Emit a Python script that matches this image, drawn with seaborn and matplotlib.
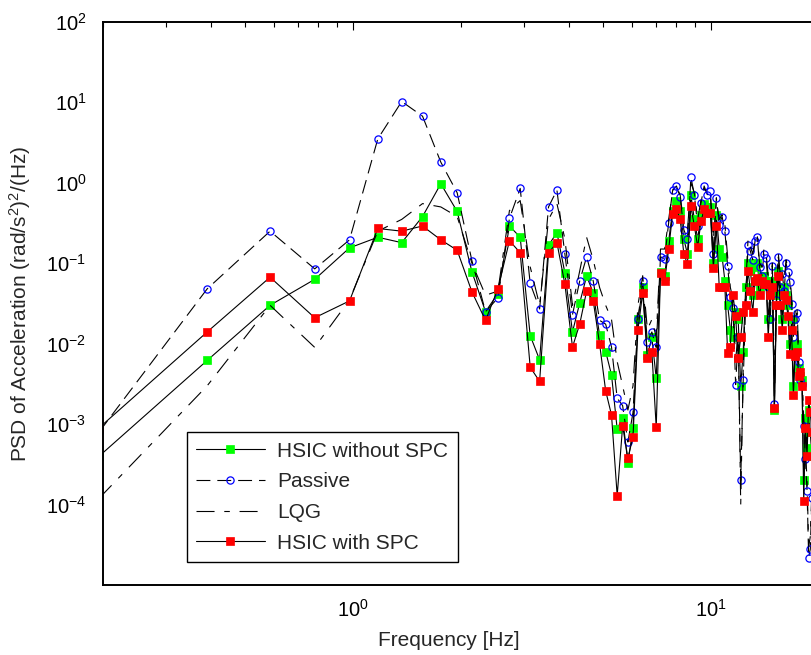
import matplotlib
matplotlib.use("Agg")
import matplotlib.pyplot as plt
import seaborn as sns
import numpy as np
import pandas as pd
from matplotlib.ticker import LogLocator, NullFormatter

# ---------------- data ----------------
freq = [0.195, 0.391, 0.586, 0.781, 0.977, 1.172, 1.367, 1.563, 1.758, 1.953,
        2.148, 2.344, 2.539, 2.734, 2.930, 3.125, 3.320, 3.516, 3.711, 3.906,
        4.102, 4.297, 4.492, 4.688, 4.883, 5.078, 5.273, 5.469, 5.664, 5.859,
        6.055, 6.250, 6.445, 6.641, 6.836, 7.031, 7.227, 7.422, 7.617, 7.813,
        8.008, 8.203, 8.398, 8.594, 8.789, 8.984, 9.180, 9.375, 9.570, 9.766,
        9.961, 10.156, 10.352, 10.547, 10.742, 10.938, 11.133, 11.328, 11.523, 11.719,
        11.914, 12.109, 12.305, 12.500, 12.695, 12.891, 13.086, 13.281, 13.477, 13.672,
        13.867, 14.063, 14.258, 14.453, 14.648, 14.844, 15.039, 15.234, 15.430, 15.625,
        15.820, 16.016, 16.211, 16.406, 16.602, 16.797, 16.992, 17.188, 17.383, 17.578,
        17.773, 17.969, 18.164, 18.359, 18.555, 18.750, 18.945, 19.141]

hsic_without_spc = [0.0004, 0.0062, 0.030, 0.063, 0.155, 0.21, 0.18, 0.38, 0.97, 0.44,
    0.078, 0.025, 0.042, 0.29, 0.21, 0.0126, 0.0063, 0.167, 0.24, 0.076,
    0.014, 0.032, 0.069, 0.043, 0.0128, 0.0080, 0.0041, 0.00087, 0.0012, 0.00033,
    0.0009, 0.02, 0.05, 0.0072, 0.012, 0.0037, 0.078, 0.07, 0.19, 0.45,
    0.6, 0.45, 0.2, 0.13, 0.7, 0.35, 0.2, 0.4, 0.55, 0.5,
    0.5, 0.1, 0.4, 0.15, 0.12, 0.06, 0.03, 0.015, 0.012, 0.025,
    0.02, 0.003, 0.008, 0.05, 0.1, 0.08, 0.04, 0.09, 0.1, 0.05,
    0.07, 0.07, 0.06, 0.02, 0.05, 0.06, 0.0015, 0.04, 0.08, 0.04,
    0.02, 0.05, 0.04, 0.03, 0.01, 0.02, 0.003, 0.009, 0.01, 0.005,
    0.004, 0.0035, 0.0002, 0.0012, 0.0005, 0.0015, 0.0008, 0.0004]

passive = [0.0008, 0.048, 0.25, 0.085, 0.195, 3.5, 10.2, 6.7, 1.8, 0.75,
    0.107, 0.025, 0.037, 0.36, 0.85, 0.056, 0.027, 0.50, 0.81, 0.13,
    0.023, 0.060, 0.12, 0.060, 0.0195, 0.0175, 0.0091, 0.0021, 0.0017, 0.0006,
    0.0014, 0.020, 0.060, 0.0105, 0.014, 0.009, 0.12, 0.114, 0.32, 0.81,
    0.91, 0.66, 0.26, 0.20, 1.17, 0.71, 0.29, 0.56, 0.91, 0.71,
    0.78, 0.13, 0.65, 0.30, 0.38, 0.25, 0.092, 0.038, 0.028, 0.0031,
    0.012, 0.0002, 0.0035, 0.03, 0.17, 0.14, 0.11, 0.19, 0.21, 0.089,
    0.07, 0.13, 0.115, 0.05, 0.020, 0.093, 0.0018, 0.035, 0.12, 0.05,
    0.074, 0.045, 0.10, 0.077, 0.059, 0.031, 0.012, 0.020, 0.024, 0.006,
    0.0035, 0.0031, 0.00095, 0.00037, 0.00015, 0.000022, 0.000028, 0.00012]

lqg = [0.00012, 0.003, 0.03, 0.009, 0.035, 0.25, 0.35, 0.55, 0.5, 0.38,
    0.1, 0.04, 0.045, 0.45, 0.6, 0.09, 0.03, 0.35, 0.55, 0.2,
    0.03, 0.08, 0.21, 0.11, 0.05, 0.03, 0.02, 0.006, 0.003, 0.0015,
    0.003, 0.03, 0.07, 0.015, 0.02, 0.012, 0.15, 0.15, 0.35, 0.8,
    0.9, 0.7, 0.3, 0.25, 1.0, 0.75, 0.35, 0.6, 0.85, 0.75,
    0.7, 0.2, 0.6, 0.35, 0.4, 0.3, 0.12, 0.05, 0.035, 0.006,
    0.015, 0.0001, 0.005, 0.05, 0.2, 0.16, 0.13, 0.2, 0.22, 0.1,
    0.09, 0.15, 0.13, 0.07, 0.03, 0.1, 0.003, 0.05, 0.13, 0.07,
    0.08, 0.06, 0.11, 0.09, 0.07, 0.04, 0.015, 0.025, 0.03, 0.008,
    0.005, 0.004, 0.0012, 0.0005, 0.0002, 0.00003, 0.00004, 0.00015]

hsic_with_spc = [0.0009, 0.0140, 0.067, 0.021, 0.034, 0.27, 0.25, 0.29, 0.195, 0.145,
    0.044, 0.0195, 0.048, 0.19, 0.135, 0.0051, 0.0034, 0.135, 0.18, 0.055,
    0.0091, 0.0175, 0.045, 0.034, 0.010, 0.0026, 0.0013, 0.00013, 0.00095, 0.00038,
    0.00069, 0.015, 0.043, 0.0066, 0.0079, 0.00091, 0.076, 0.060, 0.15, 0.41,
    0.47, 0.35, 0.13, 0.098, 0.51, 0.29, 0.16, 0.33, 0.47, 0.42,
    0.42, 0.087, 0.29, 0.05, 0.05, 0.05, 0.0076, 0.0092, 0.04, 0.022,
    0.0066, 0.012, 0.025, 0.03, 0.081, 0.045, 0.025, 0.06, 0.065, 0.04,
    0.06, 0.055, 0.055, 0.012, 0.04, 0.05, 0.0016, 0.03, 0.069, 0.03,
    0.015, 0.04, 0.035, 0.022, 0.0075, 0.015, 0.0023, 0.007, 0.008, 0.004,
    0.0045, 0.003, 0.00011, 0.0009, 0.0004, 0.002, 0.0014, 0.0008]

series_names = ["HSIC without SPC", "Passive", "LQG", "HSIC with SPC"]
xlabel_text = "Frequency [Hz]"
ylabel_text = r"PSD of Acceleration (rad/s$^{2}$)$^{2}$/(Hz)"

# ---------------- style ----------------
sns.set_style("white")
plt.rcParams['font.family'] = ['Liberation Sans', 'DejaVu Sans']
plt.rcParams['mathtext.fontset'] = 'custom'
plt.rcParams['mathtext.rm'] = 'Liberation Sans'
plt.rcParams['mathtext.it'] = 'Liberation Sans:italic'
plt.rcParams['mathtext.bf'] = 'Liberation Sans:bold'
plt.rcParams['axes.unicode_minus'] = False
plt.rcParams['lines.scale_dashes'] = False

fig = plt.figure(figsize=(8.12, 6.55), dpi=100)
ax = fig.add_axes([103 / 812, (655 - 585.2) / 655, 715.7 / 812, 563.5 / 655])
ax.set_xscale('log')
ax.set_yscale('log')

df = pd.DataFrame({"freq": freq, series_names[0]: hsic_without_spc,
                   series_names[1]: passive, series_names[2]: lqg,
                   series_names[3]: hsic_with_spc})

lw = 0.8
# HSIC without SPC
sns.lineplot(data=df, x="freq", y=series_names[0], ax=ax, sort=False, estimator=None,
             color='black', lw=lw, marker='s', markersize=5.5,
             markerfacecolor='#00ff00', markeredgecolor='#00ff00', markeredgewidth=0.5)
h_green = ax.lines[-1]
# Passive
sns.lineplot(data=df, x="freq", y=series_names[1], ax=ax, sort=False, estimator=None,
             color='black', lw=lw, marker='o', markersize=5.2,
             markerfacecolor='none', markeredgecolor='#0000ff', markeredgewidth=0.9)
h_pass = ax.lines[-1]
h_pass.set_dashes([10, 5])
# LQG
sns.lineplot(data=df, x="freq", y=series_names[2], ax=ax, sort=False, estimator=None,
             color='black', lw=lw)
h_lqg = ax.lines[-1]
h_lqg.set_dashes([13, 7, 4, 7])
# HSIC with SPC
sns.lineplot(data=df, x="freq", y=series_names[3], ax=ax, sort=False, estimator=None,
             color='black', lw=lw, marker='s', markersize=5.5,
             markerfacecolor='#ff0000', markeredgecolor='#ff0000', markeredgewidth=0.5)
h_red = ax.lines[-1]

ax.set_xlim(0.2, 20)
ax.set_ylim(1e-5, 1e2)

ax.set_xticks([1, 10])
ax.xaxis.set_minor_locator(LogLocator(base=10, subs=np.arange(2, 10), numticks=20))
ax.xaxis.set_minor_formatter(NullFormatter())
ax.set_yticks([1e-4, 1e-3, 1e-2, 1e-1, 1e0, 1e1, 1e2])
ax.yaxis.set_minor_locator(LogLocator(base=10, subs=np.arange(2, 10), numticks=20))
ax.yaxis.set_minor_formatter(NullFormatter())
ax.tick_params(which='both', direction='in', top=True, right=True, colors='black')
ax.tick_params(which='major', length=6, width=0.8, labelsize=14.5)
ax.tick_params(axis='y', which='major', pad=12)
ax.tick_params(axis='x', which='major', pad=10)
ax.tick_params(which='minor', length=3.5, width=0.8)
for sp in ax.spines.values():
    sp.set_linewidth(1.4)
    sp.set_color('black')

ax.set_xlabel(xlabel_text, fontsize=15)
ax.set_ylabel(ylabel_text, fontsize=15)
ax.xaxis.set_label_coords((449 - 103) / 715.7, -0.082)
ax.yaxis.set_label_coords((33 - 103) / 715.7, 0.5)

leg = ax.legend([h_green, h_pass, h_lqg, h_red], series_names, loc='lower left',
                bbox_to_anchor=(0.117, 0.041), borderaxespad=0, fontsize=15,
                frameon=True, fancybox=False, edgecolor='black', framealpha=1,
                handlelength=3.3, handletextpad=0.6, labelspacing=0.56,
                borderpad=0.45, numpoints=1)
leg.get_frame().set_linewidth(1.0)

fig.savefig("out.png", dpi=100)
